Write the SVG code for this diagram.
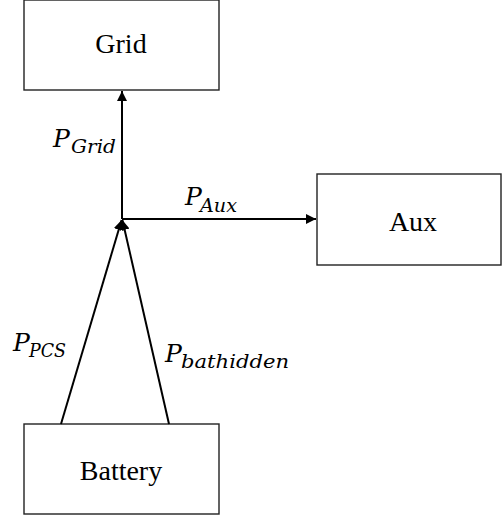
<svg xmlns="http://www.w3.org/2000/svg" width="502" height="517" viewBox="0 0 502 517">
<style>
.box{fill:#fff;stroke:#222;stroke-width:1.4}
.lbl{font-size:28px;fill:#000;text-anchor:middle}
.m{font-style:italic;fill:#000}
.mp{font-size:25px}
.ms{font-size:18px}
.c{stroke:#000;stroke-width:2;fill:none}
</style>
<defs>
<marker id="ah" viewBox="0 0 10 10" refX="10" refY="5" markerWidth="5" markerHeight="5" orient="auto" markerUnits="strokeWidth">
<path d="M0,0 L10,5 L0,10 z" fill="#000"/>
</marker>
</defs>
<rect width="502" height="517" fill="#fff"/>
<g id="grid"><rect class="box" x="24" y="0" width="195" height="90"/><text class="lbl" font-family="Liberation Serif, serif" x="121" y="53">Grid</text></g>
<g id="aux"><rect class="box" x="317" y="174" width="184" height="91"/><text class="lbl" font-family="Liberation Serif, serif" x="413" y="231">Aux</text></g>
<g id="battery"><rect class="box" x="24" y="424" width="195" height="90"/><text class="lbl" font-family="Liberation Serif, serif" x="121" y="480">Battery</text></g>
<g id="connectors">
<line class="c" x1="122" y1="219" x2="122" y2="91" marker-end="url(#ah)"/>
<line class="c" x1="122" y1="219" x2="316" y2="219" marker-end="url(#ah)"/>
<line class="c" x1="61" y1="424" x2="121.6" y2="220" marker-end="url(#ah)"/>
<line class="c" x1="169" y1="424" x2="122.4" y2="220" marker-end="url(#ah)"/>
</g>
<g id="labels" font-family="DejaVu Serif, Liberation Serif, serif">
<text class="m mp" x="53" y="147">P</text><text class="m ms" x="71" y="153" textLength="45" lengthAdjust="spacingAndGlyphs">Grid</text>
<text class="m mp" x="185" y="205">P</text><text class="m ms" x="200" y="212" textLength="37" lengthAdjust="spacingAndGlyphs">Aux</text>
<text class="m mp" x="13" y="351">P</text><text class="m ms" x="29" y="357" textLength="37" lengthAdjust="spacingAndGlyphs">PCS</text>
<text class="m mp" x="165" y="362">P</text><text class="m ms" x="181" y="368" textLength="108" lengthAdjust="spacingAndGlyphs">bathidden</text>
</g>
</svg>
